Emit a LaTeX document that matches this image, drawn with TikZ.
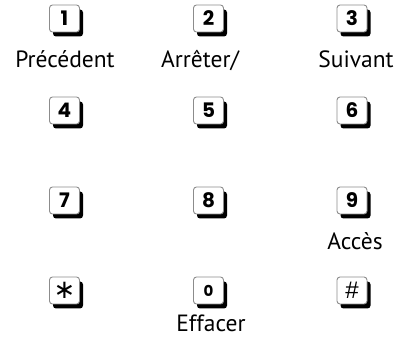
\documentclass[tikz,border=0pt]{standalone}
\usepackage{fontspec}
\setmainfont{PT Sans}
\newfontfamily\keyfont{Poppins}[BoldFont={* Bold}]
\usetikzlibrary{shadows}
\begin{document}
\begin{tikzpicture}[x=1pt,y=-1pt,
  keybox/.style={draw=black!45, line width=0.9pt, fill=white, rounded corners=3pt,
    minimum width=30pt, minimum height=27pt, inner sep=0pt,
    font=\keyfont\bfseries\fontsize{20}{20}\selectfont,
    drop shadow={shadow xshift=3.5pt, shadow yshift=-4.5pt, fill=black, opacity=1}},
  lbl/.style={anchor=base, inner sep=0pt, font=\fontsize{23.5}{24}\selectfont}]
\useasboundingbox (0,0) rectangle (402,344);
\node[keybox] (k1) at (64.5,18.5) {1};
\node[keybox] (k2) at (208.5,18.5) {2};
\node[keybox] (k3) at (352,18.5) {3};
\node[keybox] (k4) at (64.5,110.5) {4};
\node[keybox] (k5) at (208.5,110.5) {5};
\node[keybox] (k6) at (352,110.5) {6};
\node[keybox] (k7) at (64.5,200.5) {7};
\node[keybox] (k8) at (208.5,200.5) {8};
\node[keybox] (k9) at (352,200.5) {9};
\node[keybox] (kstar) at (64.5,290.5) {\fontspec{DejaVu Sans}\mdseries\fontsize{26}{26}\selectfont ∗};
\node[keybox] (k0) at (208.5,290.5) {\fontsize{15}{15}\selectfont 0};
\node[keybox] (khash) at (352,290.5) {\fontspec{Liberation Sans}\mdseries\fontsize{24}{24}\selectfont \#};
\node[lbl] (l1) at (65,68) {Précédent};
\node[lbl] (l2) at (200,68) {Arrêter/};
\node[lbl] (l3) at (356,68) {Suivant};
\node[lbl] (l9) at (355,250) {Accès};
\node[lbl] (l0) at (211,332) {Effacer};
\end{tikzpicture}
\end{document}
